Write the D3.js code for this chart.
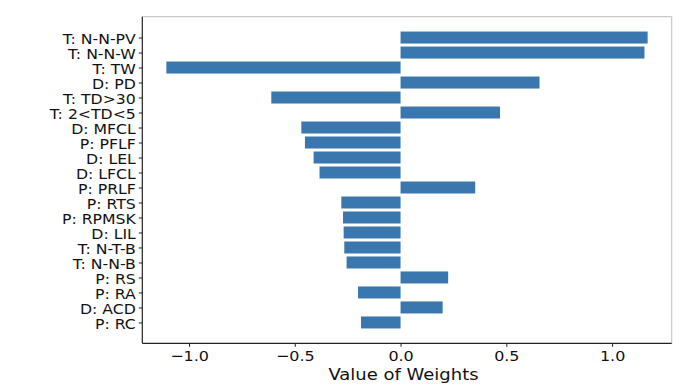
<!DOCTYPE html>
<html>
<head>
<meta charset="utf-8">
<script src="https://cdn.jsdelivr.net/npm/d3@7"></script>
<style>
  body { margin: 0; background: #fff; }
  svg { display: block; font-family: "DejaVu Sans", sans-serif; }
</style>
</head>
<body>
<svg class="chart" width="682" height="390"></svg>
<script>
// features, top to bottom
var features = ["T: N-N-PV", "T: N-N-W", "T: TW", "D: PD", "T: TD>30", "T: 2<TD<5",
  "D: MFCL", "P: PFLF", "D: LEL", "D: LFCL", "P: PRLF", "P: RTS", "P: RPMSK",
  "D: LIL", "T: N-T-B", "T: N-N-B", "P: RS", "P: RA", "D: ACD", "P: RC"];
var weights = [1.168, 1.153, -1.107, 0.657, -0.611, 0.470,
  -0.469, -0.452, -0.411, -0.383, 0.353, -0.280, -0.272,
  -0.269, -0.266, -0.255, 0.225, -0.201, 0.199, -0.187];
var xTicks = [-1.0, -0.5, 0.0, 0.5, 1.0];

var plotL = 142.3, plotR = 671.7, plotT = 16.7, plotB = 343.3;
var svg = d3.select(".chart");

// the original figure is a bit wider than tall, so text gets stretched
var stretch = function(sel, k) {
  sel.each(function() {
    var w = this.getComputedTextLength();
    d3.select(this).attr("textLength", w * k).attr("lengthAdjust", "spacingAndGlyphs");
  });
};

// matplotlib-like 5% margins
var lo = d3.min(weights), hi = d3.max(weights), pad = (hi - lo) * 0.05;
var x = d3.scaleLinear().domain([lo - pad, hi + pad]).range([plotL, plotR]);
var n = features.length;
var ypad = (n - 0.2) * 0.05;
var y = d3.scaleLinear().domain([-0.4 - ypad, n - 0.6 + ypad]).range([plotT, plotB]);
var barH = y(0.8) - y(0);

svg.append("g").selectAll("rect").data(weights).enter().append("rect")
  .attr("x", function(d) { return x(Math.min(0, d)); })
  .attr("width", function(d) { return Math.abs(x(d) - x(0)); })
  .attr("y", function(d, i) { return y(i - 0.4); })
  .attr("height", barH)
  .attr("fill", "#3a77af");

// light top/right spines
svg.append("line").attr("x1", plotL).attr("x2", plotR).attr("y1", plotT).attr("y2", plotT)
  .attr("stroke", "#c8c8c8").attr("stroke-width", 1.2);
svg.append("line").attr("x1", plotR).attr("x2", plotR).attr("y1", plotT).attr("y2", plotB)
  .attr("stroke", "#c8c8c8").attr("stroke-width", 1.2);

var xAxis = svg.append("g").attr("transform", "translate(0," + plotB + ")")
  .call(d3.axisBottom(x).tickValues(xTicks).tickFormat(function(d) {
    return d3.format(".1f")(d).replace("-", "\u2212");
  }).tickSizeOuter(0).tickSize(3.5).tickPadding(3.5));
var yAxis = svg.append("g").attr("transform", "translate(" + plotL + ",0)")
  .call(d3.axisLeft(y).tickValues(d3.range(n)).tickFormat(function(i) { return features[i]; })
    .tickSizeOuter(0).tickSize(3.5).tickPadding(3));

[xAxis, yAxis].forEach(function(g) {
  g.select(".domain").attr("stroke", "#222").attr("stroke-width", 1.2);
  g.selectAll(".tick line").attr("stroke", "#222").attr("stroke-width", 1);
  g.selectAll(".tick text").attr("fill", "#111")
    .attr("font-family", "DejaVu Sans, sans-serif");
});
xAxis.select(".domain").attr("d", "M" + plotL + ",0H" + plotR);
yAxis.select(".domain").attr("d", "M0," + plotT + "V" + plotB);

xAxis.selectAll(".tick text").attr("font-size", 14.5).call(stretch, 1.1);
yAxis.selectAll(".tick text").attr("font-size", 14.6).attr("dy", "0.41em").call(stretch, 1.075);

svg.append("text").attr("x", (plotL + plotR) / 2 - 3.5).attr("y", 380)
  .attr("text-anchor", "middle").attr("font-size", 16.5).attr("fill", "#111")
  .text("Value of Weights")
  .call(stretch, 1.09);
</script>
</body>
</html>
